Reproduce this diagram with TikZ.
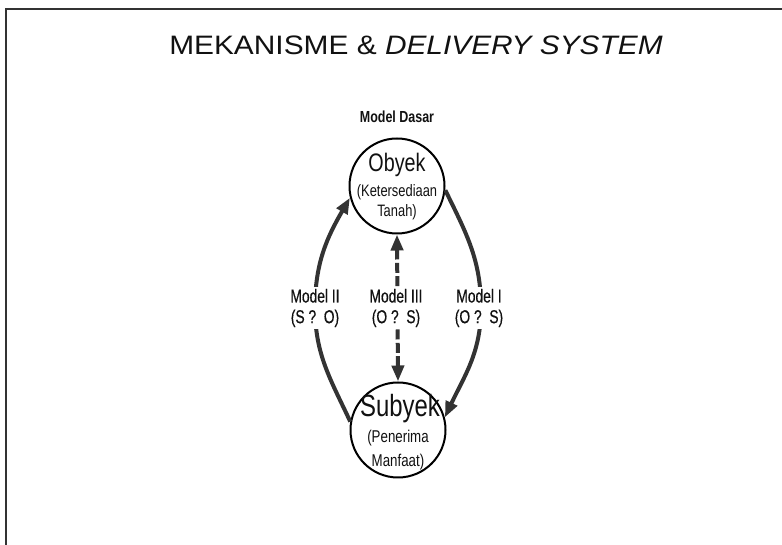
\documentclass[tikz,border=0pt]{standalone}
\usepackage{fontspec}
\setmainfont{Liberation Sans}
\newfontfamily\narrowfont[FakeStretch=0.78]{Liberation Sans}
\newfontfamily\labelfont[FakeStretch=0.74,FakeBold=0.5]{Liberation Sans}
\newfontfamily\widefont[FakeStretch=1.12]{Liberation Sans}
\usetikzlibrary{arrows.meta}
\definecolor{linegray}{HTML}{333333}
\definecolor{textgray}{HTML}{111111}
\begin{document}
\begin{tikzpicture}[x=0.75pt,y=0.75pt,>={Triangle[length=12pt,width=9pt]},
  place/.style={circle,draw=black,line width=1.5pt,minimum size=71.25pt,inner sep=0pt},
  flow/.style={->,draw=linegray,line width=3pt},
  modellabel/.style={fill=white,inner sep=1.5pt,align=center,text=textgray,
    font=\labelfont\fontsize{14}{15.5}\selectfont}]
\useasboundingbox (0,0) rectangle (782,545);
% frame
\draw[linegray,line width=2pt] (6,0) -- (6,536) -- (782,536);
% title
\node[anchor=base,text=textgray,font=\widefont\fontsize{20}{22}\selectfont] (title) at (416,490)
  {MEKANISME \& \textit{DELIVERY SYSTEM}};
\node[anchor=base,text=textgray,font=\narrowfont\bfseries\fontsize{12}{14}\selectfont] (dasar) at (397,422) {Model Dasar};
% circles
\node[place] (obyek) at (397,359) {};
\node[place] (subyek) at (398,115) {};
\node[anchor=base,text=textgray,font=\narrowfont\fontsize{19}{20}\selectfont] (obyek1) at (397,373) {Obyek};
\node[anchor=base,text=textgray,font=\narrowfont\fontsize{12.4}{14}\selectfont] (obyek2) at (397,348) {(Ketersediaan};
\node[anchor=base,text=textgray,font=\narrowfont\fontsize{12.4}{14}\selectfont] (obyek3) at (397,328) {Tanah)};
\node[anchor=base,text=textgray,font=\narrowfont\fontsize{23}{24}\selectfont] (subyek1) at (400,128) {Subyek};
\node[anchor=base,text=textgray,font=\narrowfont\fontsize{12.8}{14}\selectfont] (subyek2) at (398,102) {(Penerima};
\node[anchor=base,text=textgray,font=\narrowfont\fontsize{12.8}{14}\selectfont] (subyek3) at (398,78) {Manfaat)};
% arrows
\coordinate (m1) at (481,237);
\coordinate (m2) at (315,237);
\draw[flow] (obyek.-5) to[out=-64,in=90] (m1) to[out=-90,in=65] (subyek.15);
\draw[flow] (subyek.170) to[out=115,in=-90] (m2) to[out=90,in=-120] (obyek.194);
\draw[flow,<->,dash pattern=on 7.5pt off 2.5pt] (obyek.south) -- (subyek.north);
% labels
\node[modellabel] (model2) at (315,237) {Model II\\(S ?~~O)};
\node[modellabel] (model3) at (396,237) {Model III\\(O ?~~S)};
\node[modellabel] (model1) at (479,237) {Model I\\(O ?~~S)};
\end{tikzpicture}
\end{document}
